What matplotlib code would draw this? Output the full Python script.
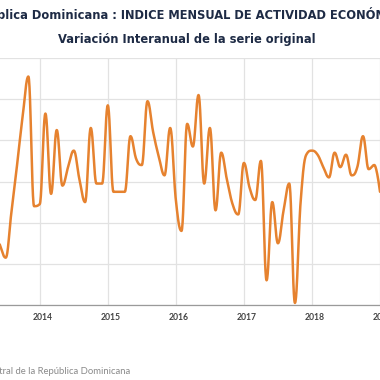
import numpy as np
import matplotlib
matplotlib.use("Agg")
import matplotlib.pyplot as plt
from matplotlib.transforms import ScaledTranslation

# IMAE, variacion interanual (%), mensual desde mayo 2013
start_year = 2013
start_month = 5
imae_var = [3.9, 2.9, 2.3, 4.5, 6.8, 9.2, 11.1, 4.8,
            4.9, 9.3, 5.4, 8.5, 5.8, 6.7, 7.5, 6.1, 5.0, 8.6, 5.9, 5.9,
            9.7, 5.5, 5.5, 5.5, 8.2, 7.1, 6.8, 9.9, 8.4, 7.2, 6.3, 8.6,
            5.1, 3.6, 8.8, 7.7, 10.2, 5.9, 8.6, 4.6, 7.4, 6.1, 4.9, 4.4,
            6.9, 5.7, 5.1, 7.0, 1.2, 5.0, 3.0, 4.6, 5.9, 0.1, 5.0, 7.3,
            7.5, 7.3, 6.7, 6.2, 7.4, 6.7, 7.3, 6.3, 6.7, 8.2, 6.6, 6.8,
            5.5]
year_ticks = [2014, 2015, 2016, 2017, 2018, 2019]

title_1 = "República Dominicana : INDICE MENSUAL DE ACTIVIDAD ECONÓMICA"
title_2 = "Variación Interanual de la serie original"
source = "Fuente: Banco Central de la República Dominicana"


def spline_curve(xs, ys, smoothing=1.5, steps=24):
    # smooth line through the points (same idea as a highcharts spline)
    n = len(xs)
    denom = smoothing + 1
    lx, ly = list(xs), list(ys)
    rx, ry = list(xs), list(ys)
    for i in range(1, n - 1):
        x, y = xs[i], ys[i]
        px, py = xs[i - 1], ys[i - 1]
        nx, ny = xs[i + 1], ys[i + 1]
        lcx = (smoothing * x + px) / denom
        lcy = (smoothing * y + py) / denom
        rcx = (smoothing * x + nx) / denom
        rcy = (smoothing * y + ny) / denom
        corr = (rcy - lcy) * (rcx - x) / (rcx - lcx) + y - rcy
        lcy += corr
        rcy += corr
        if lcy > py and lcy > y:
            lcy = max(py, y)
            rcy = 2 * y - lcy
        elif lcy < py and lcy < y:
            lcy = min(py, y)
            rcy = 2 * y - lcy
        if rcy > ny and rcy > y:
            rcy = max(ny, y)
            lcy = 2 * y - rcy
        elif rcy < ny and rcy < y:
            rcy = min(ny, y)
            lcy = 2 * y - rcy
        lx[i], ly[i], rx[i], ry[i] = lcx, lcy, rcx, rcy

    t = np.linspace(0, 1, steps)[:, None]
    out = []
    for i in range(n - 1):
        p0 = np.array([xs[i], ys[i]])
        p1 = np.array([rx[i], ry[i]])
        p2 = np.array([lx[i + 1], ly[i + 1]])
        p3 = np.array([xs[i + 1], ys[i + 1]])
        seg = ((1 - t) ** 3) * p0 + 3 * ((1 - t) ** 2) * t * p1 \
            + 3 * (1 - t) * t ** 2 * p2 + t ** 3 * p3
        out.append(seg if i == 0 else seg[1:])
    out = np.vstack(out)
    return out[:, 0], out[:, 1]


plt.rcParams['font.family'] = ['Lato', 'DejaVu Sans']

months = np.arange(len(imae_var))
x_years = start_year + (start_month - 1 + months) / 12.0

fig = plt.figure(figsize=(3.8, 3.8), dpi=100)
ax = fig.add_axes([0, 75 / 380, 1, 247 / 380])

cx, cy = spline_curve(list(x_years), imae_var)
ax.plot(cx, cy, color='#e6822f', linewidth=1.8, solid_capstyle='round')

ax.set_xlim(2014 - 40 / 68.5, 2014 + 340 / 68.5)
ax.set_ylim(0, 12)
ax.set_yticks(np.arange(0, 13, 2))
ax.set_yticklabels([])
ax.set_xticks(year_ticks)
ax.set_xticklabels([str(y) for y in year_ticks])
ax.grid(True, color='#e2e2e2', linewidth=0.9)
ax.set_axisbelow(True)
for side in ['left', 'right', 'top']:
    ax.spines[side].set_visible(False)
ax.spines['bottom'].set_color('#9a9a9a')
ax.spines['bottom'].set_linewidth(0.9)
ax.tick_params(axis='both', length=0)
ax.tick_params(axis='x', labelsize=6.2, labelcolor='#444444', pad=6)
offset = ScaledTranslation(3 / 100, 0, fig.dpi_scale_trans)
for lab in ax.get_xticklabels():
    lab.set_transform(lab.get_transform() + offset)
    lab.set_fontweight('bold')

title_font = ['DejaVu Sans']
fig.text(186.5 / 380, 1 - 15 / 380, title_1, ha='center', va='center',
         fontsize=8.3, fontweight='bold', color='#1e2b45', family=title_font)
fig.text(186.5 / 380, 1 - 40 / 380, title_2, ha='center', va='center',
         fontsize=8.3, fontweight='bold', color='#1e2b45', family=title_font)
fig.text(130 / 380, 1 - 372 / 380, source, ha='right', va='center',
         fontsize=6.8, color='#8a8a8a')

fig.savefig("out.png", dpi=100)
